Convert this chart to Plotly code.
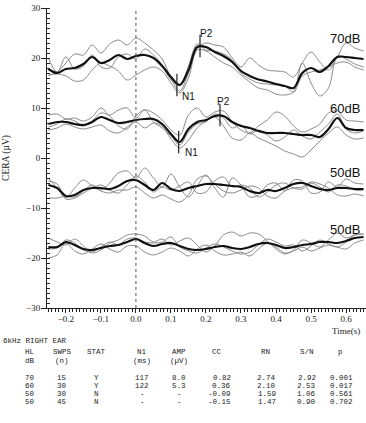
import plotly.graph_objects as go

# ---------------- data ----------------
time_s = [-0.25, -0.225, -0.2, -0.175, -0.15, -0.125, -0.1, -0.075, -0.05, -0.025,
          0.0, 0.025, 0.05, 0.075, 0.1, 0.125, 0.15, 0.175, 0.2, 0.225,
          0.25, 0.275, 0.3, 0.325, 0.35, 0.375, 0.4, 0.425, 0.45, 0.475,
          0.5, 0.525, 0.55, 0.575, 0.6, 0.625, 0.65]

db70_mean = [17.8, 17.0, 17.8, 18.0, 18.8, 20.2, 19.0, 19.6, 20.6, 19.8,
             20.4, 20.6, 20.0, 18.4, 16.2, 14.6, 17.6, 22.2, 22.2, 21.2,
             20.4, 19.2, 17.4, 16.4, 15.7, 15.3, 14.8, 14.4, 14.0, 17.0,
             18.0, 17.2, 18.4, 20.2, 20.2, 20.0, 19.8]
db70_a = [16.5, 17.2, 19.0, 20.8, 20.6, 22.6, 21.0, 22.8, 23.6, 22.6,
          24.0, 23.0, 21.6, 19.8, 16.0, 13.4, 17.0, 22.0, 23.0, 22.6,
          22.2, 20.0, 18.2, 20.0, 18.6, 17.6, 17.4, 17.2, 16.2, 19.0,
          21.2, 19.2, 17.6, 20.2, 23.0, 22.0, 21.4]
db70_b = [16.6, 16.8, 16.4, 15.4, 15.6, 17.6, 19.0, 18.4, 17.4, 15.6,
          16.6, 17.6, 18.2, 17.4, 15.0, 13.0, 16.0, 21.6, 21.4, 20.2,
          19.0, 18.2, 16.6, 15.2, 14.0, 13.6, 12.8, 12.6, 13.2, 19.0,
          15.0, 12.4, 14.0, 20.4, 19.8, 18.8, 18.2]
db70_c = [20.0, 17.2, 20.2, 17.8, 18.4, 20.6, 18.2, 18.0, 20.2, 20.8,
          19.8, 21.8, 20.6, 18.6, 15.6, 14.6, 18.4, 22.8, 21.6, 21.4,
          20.8, 19.6, 17.0, 15.8, 15.0, 14.8, 14.6, 14.4, 13.2, 16.4,
          17.2, 17.6, 18.2, 19.0, 19.2, 18.2, 17.6]

db60_mean = [6.8, 7.2, 7.2, 6.8, 6.6, 7.2, 8.2, 7.6, 7.0, 7.2,
             7.6, 7.8, 7.8, 6.8, 4.8, 3.2, 5.8, 7.2, 7.6, 8.4,
             8.4, 7.2, 6.4, 6.0, 5.4, 5.0, 5.0, 5.0, 4.8, 4.6,
             4.6, 4.2, 5.8, 8.0, 6.0, 5.6, 5.6]
db60_a = [8.6, 8.8, 7.8, 8.0, 7.4, 8.2, 10.0, 8.6, 9.6, 10.0,
          8.0, 9.6, 9.0, 7.6, 5.6, 4.6, 8.6, 10.0, 8.2, 9.2,
          9.4, 7.2, 5.6, 5.0, 6.4, 7.6, 9.2, 8.4, 6.4, 5.2,
          5.8, 6.8, 9.0, 9.4, 7.6, 7.4, 7.2]
db60_b = [5.6, 6.0, 6.8, 6.2, 5.8, 6.2, 6.6, 5.4, 5.0, 6.2,
          7.2, 6.0, 7.0, 6.4, 3.8, 2.0, 3.6, 6.0, 7.4, 8.2,
          6.4, 4.0, 3.6, 5.0, 4.0, 3.2, 2.4, 1.4, 0.8, 0.2,
          1.6, 3.4, 5.0, 6.2, 4.6, 3.8, 4.0]
db60_c = [6.2, 6.8, 7.8, 7.4, 6.4, 7.4, 9.0, 8.4, 6.4, 5.8,
          8.4, 9.6, 7.2, 6.0, 4.4, 2.6, 5.2, 6.8, 7.2, 8.8,
          8.0, 6.0, 6.6, 4.8, 5.6, 4.6, 3.4, 4.2, 5.6, 4.4,
          3.8, 5.2, 6.8, 8.8, 5.8, 5.0, 5.4]

db50a_mean = [-5.4, -6.0, -7.6, -7.4, -6.4, -6.0, -6.0, -6.2, -5.6, -4.6,
              -4.4, -5.4, -6.4, -5.0, -6.2, -6.6, -6.0, -5.6, -5.2, -5.2,
              -5.4, -5.6, -5.8, -6.6, -7.0, -6.4, -6.6, -6.0, -5.2, -5.0,
              -5.6, -6.2, -6.4, -6.0, -6.0, -6.2, -6.2]
db50a_a = [-4.0, -6.0, -8.0, -6.0, -4.4, -5.6, -6.4, -5.0, -3.0, -2.6,
           -4.0, -2.0, -4.0, -5.8, -3.2, -5.8, -7.8, -5.6, -3.4, -6.0,
           -7.8, -4.0, -5.4, -7.8, -7.4, -5.4, -5.0, -6.6, -4.4, -4.6,
           -7.0, -6.8, -4.8, -5.8, -4.2, -5.0, -5.2]
db50a_b = [-8.0, -8.0, -7.6, -7.8, -6.6, -5.4, -6.6, -7.0, -6.4, -6.4,
           -5.8, -7.0, -8.0, -7.4, -8.2, -8.8, -7.4, -4.2, -3.6, -5.2,
           -6.6, -7.0, -6.4, -5.6, -6.0, -7.6, -8.0, -6.6, -6.0, -5.8,
           -4.8, -5.2, -6.0, -7.4, -7.6, -7.2, -7.6]
db50a_c = [-4.6, -5.2, -8.2, -8.0, -7.0, -6.0, -5.4, -6.4, -7.0, -5.4,
           -3.6, -4.8, -6.8, -5.8, -6.4, -5.6, -4.8, -7.0, -6.8, -4.6,
           -3.8, -5.8, -5.4, -6.0, -7.8, -6.8, -5.4, -5.0, -6.0, -6.2,
           -5.0, -5.8, -6.8, -5.4, -5.6, -6.4, -6.4]

db50b_mean = [-17.8, -17.8, -16.8, -17.4, -18.2, -18.4, -18.0, -17.6, -17.4, -16.8,
              -16.2, -17.0, -17.6, -17.2, -17.0, -17.6, -18.2, -18.4, -18.2, -17.8,
              -17.6, -18.0, -18.2, -17.8, -17.2, -17.0, -17.4, -18.0, -17.8, -17.4,
              -17.2, -16.8, -16.8, -17.0, -16.6, -16.0, -15.8]
db50b_a = [-16.0, -16.8, -17.4, -16.2, -17.6, -19.0, -18.4, -17.0, -16.4, -15.4,
           -15.2, -15.6, -16.8, -16.2, -17.4, -16.6, -16.0, -17.4, -18.8, -17.6,
           -15.4, -14.8, -15.6, -15.0, -15.2, -16.6, -18.2, -19.2, -18.4, -16.4,
           -17.0, -17.8, -16.4, -15.0, -16.0, -15.4, -15.2]
db50b_b = [-20.0, -19.4, -17.0, -18.6, -19.2, -18.2, -17.2, -18.2, -18.8, -17.6,
           -17.6, -18.8, -19.4, -18.8, -18.0, -18.6, -19.6, -18.2, -17.4, -18.6,
           -19.4, -19.2, -18.8, -19.6, -18.2, -17.0, -17.8, -19.0, -18.6, -17.8,
           -18.6, -18.0, -17.4, -17.8, -18.2, -17.0, -16.4]
db50b_c = [-18.2, -18.0, -16.4, -17.0, -18.4, -18.8, -17.8, -16.8, -17.4, -16.2,
           -16.0, -16.8, -17.0, -16.8, -15.8, -17.8, -18.6, -19.0, -18.0, -17.2,
           -17.8, -18.6, -19.2, -18.8, -17.4, -16.2, -16.8, -17.6, -17.4, -18.6,
           -17.6, -16.4, -17.2, -17.8, -16.8, -15.4, -15.2]

level_labels = ["70dB", "60dB", "50dB", "50dB"]
level_label_y = [24.0, 10.0, -2.8, -14.2]

peak_names = ["N1", "P2", "N1", "P2"]
peak_t = [0.117, 0.183, 0.122, 0.240]
peak_v = [14.6, 22.4, 3.2, 8.6]

table_title = "6kHz RIGHT EAR"
head1 = ["HL", "SWPS", "STAT", "N1", "AMP", "CC", "RN", "S/N", "p"]
head2 = ["dB", "(n)", "", "(ms)", "(\u00b5V)", "", "", "", ""]
col_hl = ["70", "60", "50", "50"]
col_swps = ["15", "30", "30", "45"]
col_stat = ["Y", "Y", "N", "N"]
col_n1 = ["117", "122", "-", "-"]
col_amp = ["8.0", "5.3", "-", "-"]
col_cc = ["0.82", "0.36", "-0.09", "-0.15"]
col_rn = ["2.74", "2.10", "1.59", "1.47"]
col_sn = ["2.92", "2.53", "1.06", "0.90"]
col_p = ["0.001", "0.017", "0.561", "0.702"]

# ---------------- figure ----------------
W, H = 366, 423
L, R, T, B = 47, 0, 8, 115
PW, PH = W - L - R, H - T - B

def px(x):
    return (x - L) / PW

def py(y):
    return (H - B - y) / PH

fig = go.Figure()
thin = dict(color="#8a8a8a", width=1)
thick = dict(color="#111111", width=2.2)

groups = [
    (db70_mean, [db70_a, db70_b, db70_c]),
    (db60_mean, [db60_a, db60_b, db60_c]),
    (db50a_mean, [db50a_a, db50a_b, db50a_c]),
    (db50b_mean, [db50b_a, db50b_b, db50b_c]),
]
for mean, reps in groups:
    for r in reps:
        fig.add_trace(go.Scatter(x=time_s, y=r, mode="lines",
                                 line=dict(shape="spline", smoothing=1.0, **thin),
                                 hoverinfo="skip", showlegend=False))
    fig.add_trace(go.Scatter(x=time_s, y=mean, mode="lines",
                             line=dict(shape="spline", smoothing=1.0, **thick),
                             hoverinfo="skip", showlegend=False))

# peak markers
fig.add_trace(go.Scatter(x=peak_t, y=peak_v, mode="markers",
                         marker=dict(symbol="line-ns", size=16,
                                     line=dict(color="#222", width=1.2)),
                         hoverinfo="skip", showlegend=False))

annotations = []
peak_shift = [(3, -11, "left"), (-2, 13, "left"), (4, -10, "left"), (-5, 14, "left")]
for name, t, v, (xs, ys, xa) in zip(peak_names, peak_t, peak_v, peak_shift):
    annotations.append(dict(x=t, y=v, xref="x", yref="y", text=name, showarrow=False,
                            xanchor=xa, yanchor="middle", xshift=xs, yshift=ys,
                            font=dict(family="Liberation Sans, Arial", size=10, color="#111")))

for lab, yv in zip(level_labels, level_label_y):
    annotations.append(dict(x=1, y=yv, xref="paper", yref="y", text=lab, showarrow=False,
                            xanchor="right", yanchor="middle", xshift=-4,
                            font=dict(family="Liberation Sans, Arial", size=13, color="#111")))

annotations.append(dict(x=px(346), y=py(331), xref="paper", yref="paper", text="Time(s)",
                        showarrow=False, xanchor="center", yanchor="middle",
                        font=dict(family="Liberation Serif, Times New Roman", size=9, color="#222")))

mono = dict(family="Liberation Mono, Courier New, monospace", size=7.5, color="#222")

def cell(x, y, text, anchor):
    if text == "":
        return
    annotations.append(dict(x=px(x), y=py(y), xref="paper", yref="paper", text=text,
                            showarrow=False, xanchor=anchor, yanchor="middle", font=mono))

cell(1, 341, table_title, "left")
centers = [30, 62, 96, 142, 179, 217, 265, 307, 340]
rights = [233, 278, 318, 355]
for i, (h1, h2) in enumerate(zip(head1, head2)):
    cell(centers[i], 352, h1, "center")
    cell(centers[i], 361, h2, "center")
row_y = [378, 386, 394, 402]
left_cols = [col_hl, col_swps, col_stat, col_n1, col_amp]
right_cols = [col_cc, col_rn, col_sn, col_p]
for r, yy in enumerate(row_y):
    for c, col in enumerate(left_cols):
        cell(centers[c], yy, col[r], "center")
    for c, col in enumerate(right_cols):
        cell(rights[c], yy, col[r], "right")

tickfont = dict(family="Liberation Serif, Times New Roman", size=9, color="#222")
fig.update_layout(
    width=W, height=H,
    margin=dict(l=L, r=R, t=T, b=B, pad=0),
    paper_bgcolor="white", plot_bgcolor="white",
    showlegend=False,
    annotations=annotations,
    shapes=[dict(type="line", xref="x", yref="paper", x0=0, x1=0, y0=0, y1=1,
                 line=dict(color="#555", width=1, dash="dot"))],
    xaxis=dict(range=[-0.254, 0.657], showgrid=False, zeroline=False,
               showline=True, linecolor="#222", linewidth=1,
               tick0=0, dtick=0.1, tickformat=".1f", ticks="outside", ticklen=4,
               tickcolor="#222", tickfont=tickfont, ticklabelstandoff=-2,
               minor=dict(dtick=0.01, tick0=0, ticks="outside", ticklen=2.5, tickcolor="#222")),
    yaxis=dict(range=[-30, 30], showgrid=False, zeroline=False,
               showline=True, linecolor="#222", linewidth=1,
               tick0=0, dtick=10, ticks="outside", ticklen=5, tickcolor="#222",
               tickfont=tickfont, ticklabelstandoff=-1,
               minor=dict(dtick=1, ticks="inside", ticklen=3, tickcolor="#222"),
               title=dict(text="CERA (\u00b5V)", standoff=14,
                          font=dict(family="Liberation Serif, Times New Roman", size=9.5, color="#222"))),
)

fig.write_html("out.html", config={"displayModeBar": False},
               post_script="document.body.style.margin='0';document.body.style.overflow='hidden';")
